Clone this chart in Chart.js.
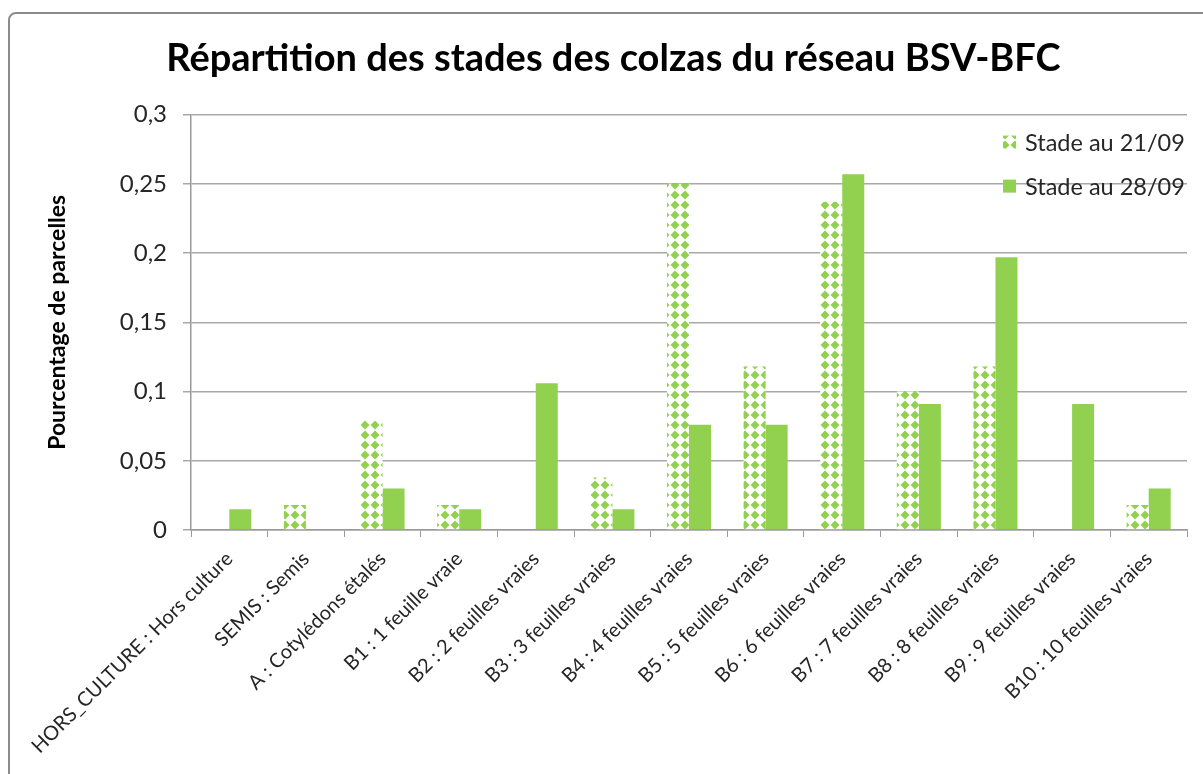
<!DOCTYPE html>
<html lang="fr">
<head>
    <meta charset="UTF-8">
    <title>Répartition des stades des colzas</title>
    <style>
        body {
            margin: 0;
            background: #fff;
            overflow: hidden;
        }

        /* Excel-like chart frame, only left and top edges visible */
        .frame {
            position: absolute;
            left: 8px;
            top: 12px;
            width: 1400px;
            height: 1000px;
            border: 2px solid #8c8c8c;
            border-top-left-radius: 8px;
            pointer-events: none;
        }

        #chart {
            position: absolute;
            left: 0;
            top: 0;
        }
    </style>
    <script src="https://cdn.jsdelivr.net/npm/chart.js"></script>
</head>
<body>
    <canvas id="chart" width="1203" height="774"></canvas>
    <div class="frame"></div>

    <script>
        // Data
        const stades = [
            'HORS_CULTURE : Hors culture',
            'SEMIS : Semis',
            'A : Cotylédons étalés',
            'B1 : 1 feuille vraie',
            'B2 : 2 feuilles vraies',
            'B3 : 3 feuilles vraies',
            'B4 : 4 feuilles vraies',
            'B5 : 5 feuilles vraies',
            'B6 : 6 feuilles vraies',
            'B7 : 7 feuilles vraies',
            'B8 : 8 feuilles vraies',
            'B9 : 9 feuilles vraies',
            'B10 : 10 feuilles vraies'
        ];
        const stade2109 = [0, 0.018, 0.08, 0.018, 0, 0.038, 0.25, 0.118, 0.237, 0.1, 0.118, 0, 0.018];
        const stade2809 = [0.015, 0, 0.03, 0.015, 0.106, 0.015, 0.076, 0.076, 0.257, 0.091, 0.197, 0.091, 0.03];
        const yTickLabels = ['0', '0,05', '0,1', '0,15', '0,2', '0,25', '0,3'];

        const green = '#92d050';
        const FONT = 'Lato, "Open Sans", sans-serif';

        // Diamond pattern used for the first series
        function diamondPattern() {
            const c = document.createElement('canvas');
            c.width = 10;
            c.height = 10;
            const p = c.getContext('2d');
            p.fillStyle = '#fff';
            p.fillRect(0, 0, 10, 10);
            p.fillStyle = green;
            p.beginPath();
            p.moveTo(5, 0.5);
            p.lineTo(9.5, 5);
            p.lineTo(5, 9.5);
            p.lineTo(0.5, 5);
            p.closePath();
            p.fill();
            return p.createPattern(c, 'repeat');
        }

        // Legend drawn inside the plot area, top right
        const insideLegend = {
            id: 'insideLegend',
            afterDraw(chart) {
                const ctx = chart.ctx;
                const area = chart.chartArea;
                ctx.save();
                ctx.font = '23.5px ' + FONT;
                ctx.textBaseline = 'middle';
                chart.data.datasets.forEach((ds, i) => {
                    const y = area.top + 28 + i * 44;
                    const x = area.right - 184;
                    ctx.fillStyle = ds.backgroundColor;
                    ctx.fillRect(x, y - 7, 13, 13);
                    ctx.fillStyle = '#262626';
                    ctx.fillText(ds.label, x + 22, y + 1);
                });
                ctx.restore();
            }
        };

        const ctx = document.getElementById('chart').getContext('2d');
        new Chart(ctx, {
            type: 'bar',
            data: {
                labels: stades,
                datasets: [{
                    label: 'Stade au 21/09',
                    data: stade2109,
                    backgroundColor: diamondPattern(),
                    borderWidth: 0,
                    categoryPercentage: 0.575,
                    barPercentage: 1
                }, {
                    label: 'Stade au 28/09',
                    data: stade2809,
                    backgroundColor: green,
                    borderWidth: 0,
                    categoryPercentage: 0.575,
                    barPercentage: 1
                }]
            },
            options: {
                responsive: false,
                animation: false,
                layout: {
                    padding: { left: 40, right: 16, top: 0, bottom: 0 }
                },
                plugins: {
                    legend: { display: false },
                    tooltip: { enabled: false },
                    title: {
                        display: true,
                        text: 'Répartition des stades des colzas du réseau BSV-BFC',
                        color: '#000',
                        font: { family: FONT, size: 38, weight: 'bold' },
                        padding: { top: 36, bottom: 33 }
                    }
                },
                scales: {
                    x: {
                        grid: {
                            offset: true,
                            drawOnChartArea: false,
                            drawTicks: true,
                            tickLength: 7,
                            color: '#999'
                        },
                        border: { color: '#999', width: 1.5 },
                        ticks: {
                            autoSkip: false,
                            maxRotation: 45,
                            minRotation: 45,
                            padding: 10,
                            color: '#262626',
                            font: { family: FONT, size: 20 }
                        },
                        afterFit(scale) { scale.height = 244; }
                    },
                    y: {
                        min: 0,
                        max: 0.3,
                        ticks: {
                            stepSize: 0.05,
                            padding: 16,
                            color: '#262626',
                            font: { family: FONT, size: 24 },
                            callback: (v, i) => yTickLabels[i]
                        },
                        grid: {
                            color: '#a8a8a8',
                            lineWidth: 1.5,
                            tickLength: 8
                        },
                        border: { color: '#999', width: 1.5 },
                        title: {
                            display: true,
                            text: 'Pourcentage de parcelles',
                            color: '#000',
                            font: { family: FONT, size: 23, weight: 'bold' },
                            padding: { top: 4, bottom: 0 }
                        },
                        afterFit(scale) { scale.width = 151; }
                    }
                }
            },
            plugins: [insideLegend]
        });
    </script>
</body>
</html>
